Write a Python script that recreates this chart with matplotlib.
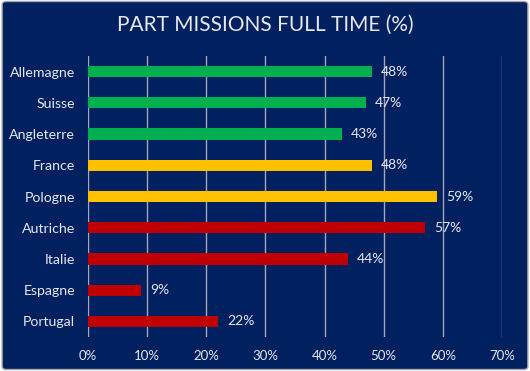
import matplotlib
matplotlib.use("Agg")
import matplotlib.pyplot as plt
from matplotlib.patches import FancyBboxPatch

countries = ["Allemagne", "Suisse", "Angleterre", "France", "Pologne",
             "Autriche", "Italie", "Espagne", "Portugal"]
values = [48, 47, 43, 48, 59, 57, 44, 9, 22]
colors = ["#00B050", "#00B050", "#00B050", "#FFC000", "#FFC000",
          "#C00000", "#C00000", "#C00000", "#C00000"]
xticks = [0, 10, 20, 30, 40, 50, 60, 70]
title = "PART MISSIONS FULL TIME (%)"

bg = "#002060"
txt = "#E6E8EE"
plt.rcParams['font.family'] = ['Lato', 'DejaVu Sans']

fig = plt.figure(figsize=(5.30, 3.71), dpi=100)
fig.patch.set_facecolor("white")
frame = FancyBboxPatch((0.004, 0.004), 0.992, 0.992,
                       boxstyle="round,pad=0,rounding_size=0.008",
                       transform=fig.transFigure, facecolor=bg,
                       edgecolor="#A6A6B0", linewidth=1.0, zorder=-10)
fig.patches.append(frame)

ax = fig.add_axes([88/530, 1-337/371, (502-88)/530, (337-56)/371])
ax.set_facecolor("none")
y = list(range(len(countries)))
ax.barh(y, values, height=0.36, color=colors, zorder=3)
ax.set_xlim(0, 70)
ax.set_ylim(len(countries) - 0.5, -0.5)
ax.set_yticks(y)
ax.set_yticklabels(countries, color=txt, fontsize=10.2)
ax.set_xticks(xticks)
ax.set_xticklabels([f"{v}%" for v in xticks], color=txt, fontsize=9.5)
ax.tick_params(length=0, pad=9.3)
ax.tick_params(axis='x', pad=9)
for s in ax.spines.values():
    s.set_visible(False)
ax.grid(axis='x', color="#A6A6B8", linewidth=1.0, zorder=0)
for yi, v in zip(y, values):
    ax.text(v + 1.5, yi, f"{v}%", va='center', ha='left', color=txt, fontsize=10)

fig.text(0.5, 1-25/371, title, ha='center', va='center', color=txt, fontsize=15)
fig.savefig("out.png", dpi=100, facecolor=fig.get_facecolor())
